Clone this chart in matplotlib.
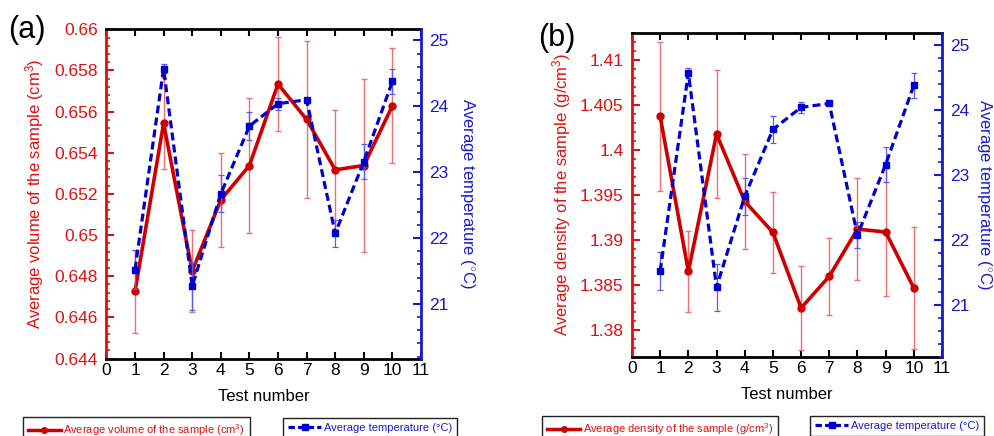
import matplotlib
matplotlib.use('Agg')
import matplotlib.pyplot as plt
from matplotlib.ticker import MultipleLocator, FuncFormatter
from matplotlib.lines import Line2D

plt.rcParams['font.family'] = ['Liberation Sans', 'DejaVu Sans']
plt.rcParams['mathtext.fontset'] = 'custom'
plt.rcParams['mathtext.rm'] = 'Liberation Sans'
plt.rcParams['mathtext.it'] = 'Liberation Sans:italic'
plt.rcParams['mathtext.bf'] = 'Liberation Sans:bold'

# ---------------- data ----------------
test_numbers = [1, 2, 3, 4, 5, 6, 7, 8, 9, 10]
volume = [0.64726, 0.65543, 0.64825, 0.65171, 0.65338, 0.65734, 0.65562, 0.65317, 0.65338, 0.65628]
volume_err = [0.0020, 0.0022, 0.0020, 0.0023, 0.0033, 0.0023, 0.0038, 0.0029, 0.0042, 0.0028]
density = [1.4037, 1.38648, 1.40174, 1.39426, 1.39081, 1.38241, 1.38593, 1.39118, 1.39085, 1.38463]
density_err = [0.0083, 0.0045, 0.0071, 0.0053, 0.0045, 0.0047, 0.0043, 0.0057, 0.0071, 0.0068]
temperature = [21.52, 24.57, 21.27, 22.67, 23.70, 24.04, 24.10, 22.07, 23.16, 24.38]
temperature_err = [0.30, 0.07, 0.36, 0.28, 0.21, 0.09, 0.03, 0.20, 0.27, 0.19]

label_volume = 'Average volume of the sample (cm$^3$)'
label_density = 'Average density of the sample (g/cm$^3$)'
label_temp = 'Average temperature ($^{\\circ}$C)'
label_temp_leg = 'Average temperature (°C)'
xlabel = 'Test number'

RED = '#cc0000'
RED_TXT = '#dd1111'
RED_ERR = '#ee7070'
BLUE = '#0000cc'
BLUE_TXT = '#1a1acc'
BLUE_ERR = '#5a5aee'

W, H = 995, 436
fig = plt.figure(figsize=(W / 100, H / 100), dpi=100)


def fmt_g(v, pos):
    return '%g' % round(v, 6)


def make_panel(rect, yvals, yerr, ylim, ymajor, yminor, ylabel_text,
               tlim, letter, letter_xy, lab_left_x, lab_right_x):
    ax = fig.add_axes(rect)
    ax.errorbar(test_numbers, yvals, yerr=yerr, fmt='none', ecolor=RED_ERR,
                elinewidth=1.0, capsize=2.5, capthick=1.0, zorder=2)
    ax.plot(test_numbers, yvals, color=RED, lw=2.6, marker='o', ms=5,
            zorder=3)
    ax.set_xlim(0, 11)
    ax.set_ylim(*ylim)
    ax.xaxis.set_major_locator(MultipleLocator(1))
    ax.yaxis.set_major_locator(MultipleLocator(ymajor))
    ax.yaxis.set_minor_locator(MultipleLocator(yminor))
    ax.yaxis.set_major_formatter(FuncFormatter(fmt_g))
    ax.tick_params(axis='x', which='both', direction='in', top=True,
                   length=5, width=1.5, labelsize=12.5, pad=3, colors='black')
    ax.tick_params(axis='y', which='major', direction='in', length=6,
                   width=1.5, labelsize=12.5, pad=6, colors=RED_TXT)
    ax.tick_params(axis='y', which='minor', direction='in', length=3,
                   width=1.2, colors=RED_TXT)
    for s in ['top', 'bottom']:
        ax.spines[s].set_linewidth(2)
        ax.spines[s].set_color('black')
    ax.spines['left'].set_linewidth(2)
    ax.spines['left'].set_color(RED_TXT)
    ax.spines['right'].set_visible(False)
    ax.set_xlabel(xlabel, fontsize=12, labelpad=8)
    ax.set_ylabel(ylabel_text, fontsize=12, color=RED_TXT, va='center')
    ax.yaxis.set_label_coords(lab_left_x, 0.5)

    ax2 = ax.twinx()
    ax2.errorbar(test_numbers, temperature, yerr=temperature_err, fmt='none',
                 ecolor=BLUE_ERR, elinewidth=0.9, capsize=2.5, capthick=0.9,
                 zorder=2)
    ax2.plot(test_numbers, temperature, color=BLUE, lw=2.3,
             linestyle=(0, (2.5, 1.3)), marker='s', ms=5, zorder=3)
    ax2.set_ylim(*tlim)
    ax2.yaxis.set_major_locator(MultipleLocator(1))
    ax2.yaxis.set_minor_locator(MultipleLocator(0.2))
    ax2.tick_params(axis='y', which='major', direction='in', length=6,
                    width=1.5, labelsize=12.5, pad=6, colors=BLUE_TXT)
    ax2.tick_params(axis='y', which='minor', direction='in', length=3,
                    width=1.2, colors=BLUE_TXT)
    ax2.spines['right'].set_linewidth(2)
    ax2.spines['right'].set_color(BLUE_TXT)
    for s in ['top', 'bottom', 'left']:
        ax2.spines[s].set_visible(False)
    ax2.set_ylabel(label_temp, fontsize=12, color=BLUE_TXT, rotation=270,
                   va='center', ha='center')
    ax2.yaxis.set_label_coords(lab_right_x, 0.5)

    fig.text(letter_xy[0] / W, 1 - letter_xy[1] / H, letter, fontsize=22,
             ha='left', va='center')
    return ax, ax2


make_panel([106.4 / W, (H - 358.5) / H, 314.6 / W, 329.2 / H],
           volume, volume_err, (0.644, 0.660), 0.002, 0.0004, label_volume,
           (20.17, 25.17), '(a)', (8, 30),
           (35 - 106.4) / 314.6, (467 - 106.4) / 314.6)
make_panel([632 / W, (H - 356.7) / H, 310 / W, 324 / H],
           density, density_err, (1.377, 1.413), 0.005, 0.001, label_density,
           (20.2, 25.19), '(b)', (538, 38),
           (562 - 632) / 310, (985 - 632) / 310)


def add_legend(handle, text, color, x_px, y_px):
    leg = fig.legend(handles=[handle], labels=[text], loc='upper left',
                     bbox_to_anchor=(x_px / W, 1 - y_px / H),
                     bbox_transform=fig.transFigure, fontsize=8,
                     frameon=True, fancybox=False, edgecolor='#222222',
                     framealpha=1, handlelength=3.0, handletextpad=0.2,
                     borderpad=0.45, borderaxespad=0, labelcolor=color,
                     numpoints=1)
    leg.get_frame().set_linewidth(1.0)
    return leg


red_handle = Line2D([], [], color=RED, lw=2.5, marker='o', ms=4)
blue_handle = Line2D([], [], color=BLUE, lw=2.3, linestyle=(0, (2.0, 1.0)),
                     marker='s', ms=4)

add_legend(red_handle, label_volume, RED_TXT, 22.7, 416.7)
add_legend(blue_handle, label_temp_leg, BLUE_TXT, 283, 417.5)
add_legend(red_handle, label_density, RED_TXT, 542, 416)
add_legend(blue_handle, label_temp_leg, BLUE_TXT, 810, 416)

fig.savefig('out.png', dpi=100)
